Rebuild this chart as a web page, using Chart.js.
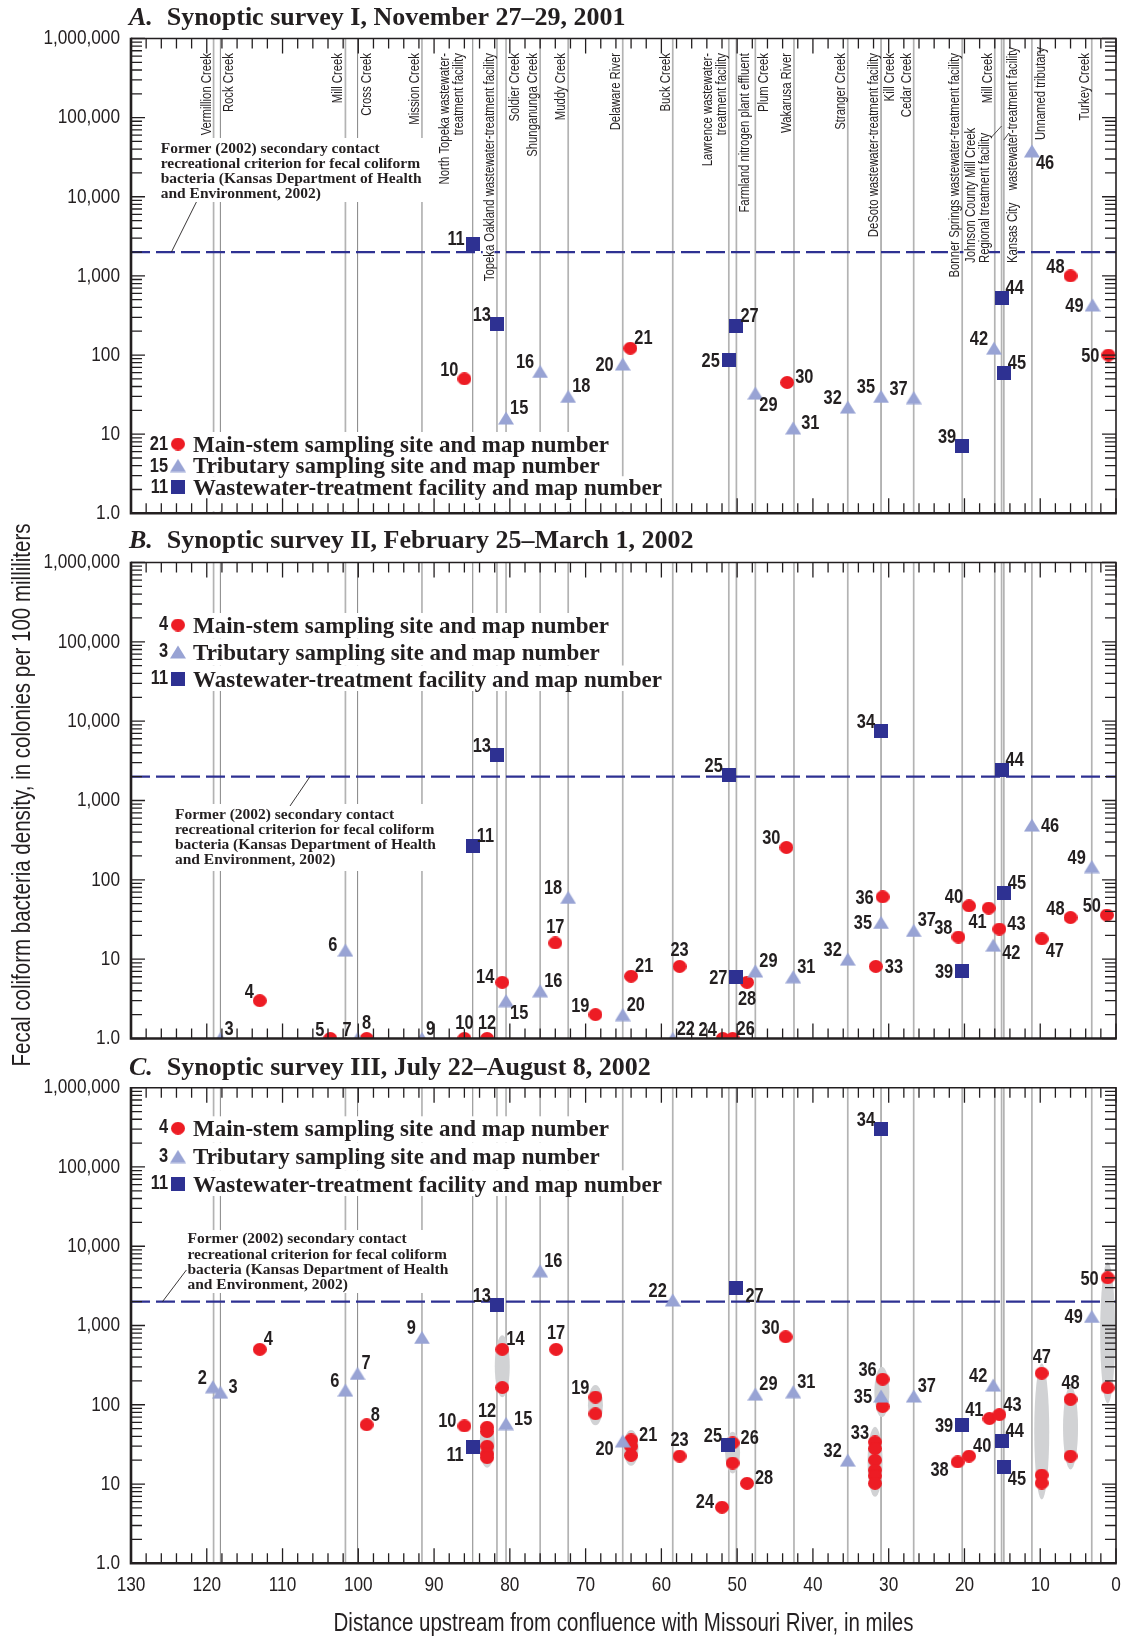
<!DOCTYPE html>
<html>
<head>
<meta charset="utf-8">
<script src="https://cdn.jsdelivr.net/npm/chart.js@4.4.1/dist/chart.umd.min.js"></script>
<style>
  html, body { margin: 0; padding: 0; background: #fff; }
  #page { position: relative; width: 1124px; height: 1638px; overflow: hidden; background: #fff; }
  #page canvas { position: absolute; left: 0; }
  #ytitle {
    position: absolute; left: -329px; top: 780px; width: 700px; height: 30px; line-height: 30px;
    text-align: center; transform: rotate(-90deg) scaleX(0.82);
    font-family: 'Liberation Sans', Arial, sans-serif;
    font-size: 25px; color: #231f20; white-space: nowrap;
  }
</style>
</head>
<body>
<div id="page">
  <canvas id="surveyI" width="1124" height="528" style="top:0px"></canvas>
  <canvas id="surveyII" width="1124" height="530" style="top:525px"></canvas>
  <canvas id="surveyIII" width="1124" height="588" style="top:1050px"></canvas>
  <div id="ytitle">Fecal coliform bacteria density, in colonies per 100 milliliters</div>
</div>
<script>
// ---------------------------------------------------------------------------
// Axis ticks and titles
// ---------------------------------------------------------------------------
const yTickValues = [1, 10, 100, 1000, 10000, 100000, 1000000];
const yTickLabels = ['1.0', '10', '100', '1,000', '10,000', '100,000', '1,000,000'];
const xTickValues = [0, 10, 20, 30, 40, 50, 60, 70, 80, 90, 100, 110, 120, 130];
const xTickLabels = ['0', '10', '20', '30', '40', '50', '60', '70', '80', '90', '100', '110', '120', '130'];
const xAxisTitle = 'Distance upstream from confluence with Missouri River, in miles';

// Former (2002) secondary contact recreational criterion, colonies per 100 mL
const criterionValue = 2000;
const criterionNote = [
  'Former (2002) secondary contact',
  'recreational criterion for fecal coliform',
  'bacteria (Kansas Department of Health',
  'and Environment, 2002)'
];
const legendTexts = [
  'Main-stem sampling site and map number',
  'Tributary sampling site and map number',
  'Wastewater-treatment facility and map number'
];

// ---------------------------------------------------------------------------
// Inflows: tributaries and wastewater outfalls, river miles upstream of the
// Missouri River confluence ("\n" separates label columns)
// ---------------------------------------------------------------------------
const inflowNames = [
  'Vermillion Creek', 'Rock Creek', 'Mill Creek', 'Cross Creek', 'Mission Creek',
  'North Topeka wastewater-\ntreatment facility', 'Topeka Oakland wastewater-treatment facility',
  'Soldier Creek', 'Shunganunga Creek', 'Muddy Creek', 'Delaware River', 'Buck Creek',
  'Lawrence wastewater-\ntreatment facility', 'Farmland nitrogen plant effluent', 'Plum Creek',
  'Wakarusa River', 'Stranger Creek', 'DeSoto wastewater-treatment facility', 'Kill Creek',
  'Cedar Creek', 'Bonner Springs wastewater-treatment facility',
  'Johnson County Mill Creek\nRegional treatment facility', 'Mill Creek',
  'Kansas City\nwastewater-treatment facility', 'Unnamed tributary', 'Turkey Creek'
];
const inflowMiles = [
  119.1, 118.2, 101.7, 100.1, 91.6,
  84.9, 81.7,
  80.5, 76.0, 72.3, 65.1, 58.5,
  51.1, 50.1, 47.6,
  42.5, 35.4, 31.0, 31.0,
  26.7, 20.3,
  15.1, 16.0,
  14.8, 11.1, 3.2
];

// ---------------------------------------------------------------------------
// Synoptic survey I, November 27-29, 2001
// ---------------------------------------------------------------------------
const s1MainSite  = [10, 21, 30, 48, 50];
const s1MainMile  = [86.0, 64.1, 43.4, 6.0, 1.0];
const s1MainValue = [50, 122, 45, 1000, 100];

const s1TribSite  = [15, 16, 18, 20, 29, 31, 32, 35, 37, 42, 46, 49];
const s1TribMile  = [80.5, 76.0, 72.3, 65.1, 47.6, 42.6, 35.4, 31.0, 26.7, 16.1, 11.1, 3.1];
const s1TribValue = [16, 62, 30, 77, 33, 12, 22, 30, 29, 122, 38000, 430];

const s1PlantSite  = [11, 13, 25, 27, 39, 44, 45];
const s1PlantMile  = [84.9, 81.7, 51.1, 50.1, 20.3, 15.1, 14.8];
const s1PlantValue = [2500, 245, 86, 235, 7, 530, 60];

// ---------------------------------------------------------------------------
// Synoptic survey II, February 25-March 1, 2002
// ---------------------------------------------------------------------------
const s2MainSite  = [4, 5, 8, 10, 12, 14, 17, 19, 21, 23, 24, 26, 28, 30, 33, 36, 38, 40, 41, 43, 47, 48, 50];
const s2MainMile  = [113.0, 103.7, 98.9, 86.0, 83.0, 81.0, 74.0, 68.7, 64.0, 57.6, 51.9, 50.6, 48.7, 43.5, 31.7, 30.8, 20.8, 19.4, 16.8, 15.4, 9.8, 6.0, 1.2];
const s2MainValue = [3, 1, 1, 1, 1, 5.1, 16, 2.0, 6.1, 8.1, 1, 1, 5.1, 256, 8.1, 61, 19, 47, 44, 24, 18, 33.5, 36];

const s2TribSite  = [3, 6, 7, 9, 15, 16, 18, 20, 22, 29, 31, 32, 35, 37, 42, 46, 49];
const s2TribMile  = [118.2, 101.7, 100.1, 91.6, 80.5, 76.0, 72.3, 65.1, 58.5, 47.6, 42.6, 35.4, 31.0, 26.7, 16.2, 11.1, 3.2];
const s2TribValue = [1, 13, 1, 1, 3.0, 4.0, 60, 2.0, 1, 7.1, 6, 10, 29, 23, 15, 490, 147];

const s2PlantSite  = [11, 13, 25, 27, 34, 39, 44, 45];
const s2PlantMile  = [84.9, 81.7, 51.1, 50.1, 31.0, 20.3, 15.1, 14.8];
const s2PlantValue = [268, 3700, 2100, 6, 7500, 7, 2400, 69];

// ---------------------------------------------------------------------------
// Synoptic survey III, July 22-August 8, 2002 (repeat samples share a site)
// ---------------------------------------------------------------------------
const s3MainSite  = [4, 8, 10, 12, 12, 12, 12, 12, 14, 14, 17, 19, 19, 21, 21, 21, 23, 24, 26, 26, 28, 30,
                     33, 33, 33, 33, 33, 33, 36, 36, 38, 40, 41, 43, 47, 47, 47, 48, 48, 50, 50];
const s3MainMile  = [113.0, 98.9, 86.0, 83.0, 83.0, 83.0, 83.0, 83.0, 81.0, 81.0, 73.9, 68.7, 68.7,
                     64.0, 64.0, 64.0, 57.6, 52.0, 50.6, 50.6, 48.7, 43.6,
                     31.8, 31.8, 31.8, 31.8, 31.8, 31.8, 30.8, 30.8, 20.9, 19.4, 16.7, 15.4,
                     9.8, 9.8, 9.8, 6.0, 6.0, 1.1, 1.1];
const s3MainValue = [500, 56, 54, 52, 46, 30, 24, 21.5, 500, 165, 500, 125, 77,
                     36, 30, 23, 22.5, 5.1, 33, 18.4, 10.2, 720,
                     34, 28, 20, 15, 12.7, 10.2, 210, 95, 19, 22.5, 67, 75,
                     250, 13, 10.3, 117, 22.5, 4000, 164];

const s3TribSite  = [2, 3, 6, 7, 9, 15, 16, 20, 22, 29, 31, 32, 35, 37, 42, 49];
const s3TribMile  = [119.2, 118.2, 101.7, 100.1, 91.6, 80.5, 76.0, 65.1, 58.5, 47.6, 42.6, 35.4, 31.0, 26.7, 16.2, 3.2];
const s3TribValue = [169, 144, 153, 248, 706, 58, 4900, 35, 2100, 136, 146, 20, 129, 129, 177, 1300];

const s3PlantSite  = [11, 13, 25, 27, 34, 39, 44, 45];
const s3PlantMile  = [84.9, 81.7, 51.2, 50.1, 31.0, 20.3, 15.1, 14.8];
const s3PlantValue = [29.6, 1800, 31, 3000, 300000, 56, 35, 16.2];

// Spread of repeat samples at a site (shaded ranges)
const s3RangeMile = [83.0, 81.0, 68.7, 64.0, 50.6, 31.8, 30.9, 9.8, 6.0, 1.1];
const s3RangeLow  = [16, 124, 55, 17, 13.6, 6.9, 70, 6.4, 15.3, 104];
const s3RangeHigh = [62, 755, 177, 48, 45.7, 52.8, 301, 331, 172, 6300];

// ---------------------------------------------------------------------------
// Label placement for the map numbers (ul = upper left, ru = right, raised, ...)
// ---------------------------------------------------------------------------
const s1MainTag  = ['ul', 'ur', 'ru', 'ul', 'l'];
const s1TribTag  = ['ur', 'ul', 'ur', 'l', 'dr', 'ru', 'ul', 'ul', 'ul', 'ul', 'dr', 'l'];
const s1PlantTag = ['lu', 'ul', 'l', 'ur', 'ul', 'ur', 'ur'];

const s2MainTag  = ['ul', 'ul', 'u', 'u', 'u', 'lu', 'u', 'ul', 'ur', 'u', 'ul', 'ur', 'd', 'ul', 'r', 'l',
                    'ul', 'ul', 'dl', 'ru', 'dr', 'ul', 'ul'];
const s2TribTag  = ['ur', 'lu', 'ul', 'ur', 'dr', 'ur', 'ul', 'ur', 'ur', 'ur', 'ur', 'ul', 'l', 'ur', 'rd', 'r', 'ul'];
const s2PlantTag = ['ur', 'ul', 'ul', 'l', 'ul', 'l', 'ur', 'ur'];

const s3MainTag  = ['ur', 'ur', 'lu', 'u', null, null, null, null, 'ur', null, 'u', 'ul', null,
                    'ru', null, null, 'u', 'lu', 'ru', null, 'ru', 'ul',
                    'ul', null, null, null, null, null, 'ul', null, 'ld', 'ur', 'ul', 'ur',
                    'u', null, null, 'u', null, 'l', null];
const s3TribTag  = ['ul', 'ru', 'ul', 'ur', 'ul', 'ru', 'ur', 'ld', 'ul', 'ur', 'ur', 'ul', 'l', 'ur', 'ul', 'l'];
const s3PlantTag = ['ld', 'ul', 'ul', 'rd', 'ul', 'l', 'ur', 'dr'];

const LABEL_OFFSETS = {
  ul: [-6, -3, 'right'], ur: [4, -4, 'left'],
  l:  [-9, 7, 'right'],  r:  [9, 7, 'left'],
  lu: [-8, 1, 'right'],  ru: [8, 1, 'left'],
  ld: [-9, 14, 'right'], rd: [9, 14, 'left'],
  dl: [-2, 20, 'right'], dr: [4, 18, 'left'],
  u:  [0, -10, 'center'], d: [0, 23, 'center']
};

// Inflow label layout along the top of the first panel
const inflowLabelLayout = [
  { side: 'L' }, { side: 'R' }, { side: 'L' }, { side: 'R' }, { side: 'L' },
  { side: 'L', dx: -7 }, { side: 'L' },
  { side: 'R' }, { side: 'L' }, { side: 'L' }, { side: 'L' }, { side: 'L' },
  { side: 'L' }, { side: 'R' }, { side: 'R' },
  { side: 'L' }, { side: 'L' }, { side: 'L' }, { side: 'R' },
  { side: 'L' }, { side: 'L' },
  { side: 'L', dx: -10, bottom: 263, leader: [-10, 137, 0, 126] }, { side: 'L' },
  { side: 'R', split: [47, 263], leader: [0, 140, 5, 133] }, { side: 'R', top: 47 }, { side: 'L' }
];
const inflowDark = [false, true, false, true, false, true, false, false, false, false, false, false, false,
                    false, false, false, false, false, false, false, false, false, false, false, false, false];

// ---------------------------------------------------------------------------
// Styles
// ---------------------------------------------------------------------------
const FONT_SANS = "'Liberation Sans', Arial, sans-serif";
const FONT_SERIF = "'Liberation Serif', 'Times New Roman', serif";
const NARROW = 0.82;            // horizontal squeeze for the condensed sans lettering
const INK = '#231f20';
const RED = '#ed1c24';
const LILAC = '#98a3d4';
const NAVY = '#2e3192';
const GRID_GREY = '#b3b3b3';
const RANGE_GREY = '#d1d2d4';
const NUMBER_SIZE = 20;
const INFLOW_SIZE = 13.8;

function markerCanvas(kind) {
  const c = document.createElement('canvas');
  const g = c.getContext('2d');
  if (kind === 'circle') {
    c.width = 14; c.height = 13;
    g.fillStyle = RED;
    g.beginPath(); g.ellipse(7, 6.5, 7, 6.5, 0, 0, Math.PI * 2); g.fill();
  } else if (kind === 'triangle') {
    c.width = 16; c.height = 14;
    g.fillStyle = LILAC;
    g.beginPath(); g.moveTo(8, 0.5); g.lineTo(16, 13.5); g.lineTo(0, 13.5); g.closePath(); g.fill();
  } else {
    c.width = 14; c.height = 14;
    g.fillStyle = NAVY;
    g.fillRect(0, 0, 14, 14);
  }
  return c;
}
const MARK = { circle: markerCanvas('circle'), triangle: markerCanvas('triangle'), square: markerCanvas('square') };

// Condensed sans text: regular face squeezed horizontally
function narrowText(ctx, text, x, y, o) {
  ctx.save();
  ctx.font = (o.weight ? o.weight + ' ' : '') + o.size + 'px ' + FONT_SANS;
  ctx.fillStyle = o.color || INK;
  ctx.textAlign = o.align || 'left';
  ctx.textBaseline = o.baseline || 'alphabetic';
  ctx.translate(x, y);
  if (o.rotate) ctx.rotate(o.rotate);
  ctx.scale(NARROW, 1);
  ctx.fillText(text, 0, 0);
  ctx.restore();
}
function narrowWidth(ctx, text, size, weight) {
  ctx.save();
  ctx.font = (weight ? weight + ' ' : '') + size + 'px ' + FONT_SANS;
  const w = ctx.measureText(text).width * NARROW;
  ctx.restore();
  return w;
}

// ---------------------------------------------------------------------------
// Drawing helpers
// ---------------------------------------------------------------------------
function drawInflowLabels(ctx, x, dashY) {
  const size = INFLOW_SIZE;
  inflowNames.forEach((name, i) => {
    const lay = inflowLabelLayout[i];
    const lx = x.getPixelForValue(inflowMiles[i]);
    const cols = name.split('\n');
    const pieces = [];
    if (lay.split) {
      pieces.push({ text: cols[0], col: 0, anchor: 'bottom', at: lay.split[1] });
      pieces.push({ text: cols[1], col: 0, anchor: 'top', at: lay.split[0] });
    } else {
      cols.forEach((t, k) => pieces.push({
        text: t, col: cols.length - 1 - k,
        anchor: lay.bottom ? 'bottom' : 'top',
        at: lay.bottom || lay.top || 53
      }));
    }
    pieces.forEach(p => {
      const bx = lay.side === 'L'
        ? lx - 3 + (lay.dx || 0) - p.col * 14
        : lx + 13 + (lay.dx || 0) + p.col * 14;
      const w = narrowWidth(ctx, p.text, size);
      const y0 = p.anchor === 'top' ? p.at : p.at - w;
      const y1 = p.anchor === 'top' ? p.at + w : p.at;
      if (dashY > y0 && dashY < y1) {
        ctx.fillStyle = '#fff';
        ctx.fillRect(bx - 0.74 * size - 1, dashY - 2.5, 0.74 * size + 1.5, 5);
      }
      narrowText(ctx, p.text, bx, p.at, {
        size: size, rotate: -Math.PI / 2,
        align: p.anchor === 'top' ? 'right' : 'left'
      });
    });
    if (lay.leader) {
      ctx.strokeStyle = INK; ctx.lineWidth = 0.8;
      ctx.beginPath();
      ctx.moveTo(lx + lay.leader[0], lay.leader[1]);
      ctx.lineTo(lx + lay.leader[2], lay.leader[3]);
      ctx.stroke();
    }
  });
}

function drawNote(ctx, n, dashY) {
  ctx.fillStyle = '#fff';
  ctx.fillRect(n.box[0], n.box[1], n.box[2] - n.box[0], n.box[3] - n.box[1]);
  ctx.font = 'bold 15.5px ' + FONT_SERIF;
  ctx.fillStyle = INK; ctx.textAlign = 'left'; ctx.textBaseline = 'alphabetic';
  criterionNote.forEach((t, k) => ctx.fillText(t, n.x, n.baselines[k]));
  ctx.strokeStyle = INK; ctx.lineWidth = 0.9;
  ctx.beginPath(); ctx.moveTo(n.leader[0], n.leader[1]); ctx.lineTo(n.leader[2], dashY); ctx.stroke();
}

function drawLegend(ctx, L, area) {
  const marks = [MARK.circle, MARK.triangle, MARK.square];
  ctx.font = 'bold 23px ' + FONT_SERIF;
  legendTexts.forEach((t, k) => {
    const cy = L.rows[k];
    const w = ctx.measureText(t).width;
    const top = k === 0 ? cy - 12 : (L.rows[k - 1] + cy) / 2;
    const bottom = k === 2 ? (L.toAxis ? area.bottom - 2 : cy + 12) : (cy + L.rows[k + 1]) / 2;
    ctx.fillStyle = '#fff';
    ctx.fillRect(144, top, 193 + w + 4 - 144, bottom - top);
  });
  legendTexts.forEach((t, k) => {
    const cy = L.rows[k];
    const m = marks[k];
    ctx.drawImage(m, 178 - m.width / 2, cy - m.height / 2);
    ctx.fillStyle = INK;
    ctx.textAlign = 'left'; ctx.textBaseline = 'alphabetic';
    ctx.font = 'bold 23px ' + FONT_SERIF;
    ctx.fillText(t, 193, cy + 7.5);
    narrowText(ctx, L.nums[k], 168, cy + L.numDy, { size: NUMBER_SIZE, weight: 'bold', align: 'right' });
  });
}

function drawRanges(ctx, b, x, y) {
  ctx.fillStyle = RANGE_GREY;
  b.mile.forEach((m, i) => {
    const px = x.getPixelForValue(m);
    const top = y.getPixelForValue(b.high[i]);
    const bot = y.getPixelForValue(b.low[i]);
    ctx.beginPath();
    ctx.ellipse(px, (top + bot) / 2, 7.5, (bot - top) / 2, 0, 0, Math.PI * 2);
    ctx.fill();
  });
}

function drawSiteNumbers(chart) {
  const ctx = chart.ctx;
  chart.data.datasets.forEach((ds, d) => {
    const meta = chart.getDatasetMeta(d);
    meta.data.forEach((pt, i) => {
      const tag = ds.tags[i];
      if (!tag) return;
      const off = LABEL_OFFSETS[tag];
      narrowText(ctx, String(ds.sites[i]), pt.x + off[0], pt.y + off[1], { size: NUMBER_SIZE, weight: 'bold', align: off[2] });
    });
  });
}

function drawFrame(chart) {
  const { ctx, chartArea: a } = chart;
  const x = chart.scales.x, y = chart.scales.y;
  ctx.save();
  ctx.strokeStyle = INK;
  ctx.lineWidth = 1.3;
  ctx.beginPath();
  for (let m = 0; m <= 130; m += 2) {
    const px = x.getPixelForValue(m);
    const len = m % 10 === 0 ? 15 : 10;
    ctx.moveTo(px, a.top); ctx.lineTo(px, a.top + len);
    ctx.moveTo(px, a.bottom); ctx.lineTo(px, a.bottom - len);
  }
  for (let e = 0; e <= 6; e++) {
    for (let k = 1; k <= 9; k++) {
      const v = k * Math.pow(10, e);
      if (v > 1000000) break;
      const py = y.getPixelForValue(v);
      const len = k === 1 ? 14 : 11;
      ctx.moveTo(a.left, py); ctx.lineTo(a.left + len, py);
      ctx.moveTo(a.right, py); ctx.lineTo(a.right - len, py);
    }
  }
  ctx.stroke();
  ctx.lineWidth = 1.6;
  ctx.beginPath();
  ctx.moveTo(a.left, a.top); ctx.lineTo(a.right, a.top); ctx.lineTo(a.right, a.bottom);
  ctx.stroke();
  ctx.lineWidth = 2.6;
  ctx.beginPath();
  ctx.moveTo(a.left, a.top - 0.8); ctx.lineTo(a.left, a.bottom); ctx.lineTo(a.right + 0.8, a.bottom);
  ctx.stroke();
  ctx.restore();
}

function drawAxisText(chart, o) {
  const { ctx, chartArea: a } = chart;
  const x = chart.scales.x, y = chart.scales.y;
  yTickValues.forEach((v, i) => {
    narrowText(ctx, yTickLabels[i], a.left - 11, y.getPixelForValue(v), { size: 21, align: 'right', baseline: 'middle' });
  });
  if (o.xAxis) {
    xTickValues.forEach((v, i) => {
      narrowText(ctx, xTickLabels[i], x.getPixelForValue(v), a.bottom + 22, { size: 21, align: 'center', baseline: 'middle' });
    });
    narrowText(ctx, xAxisTitle, (a.left + a.right) / 2, a.bottom + 61, { size: 25, align: 'center', baseline: 'middle' });
  }
}

function drawTitle(ctx, t, base) {
  ctx.save();
  ctx.fillStyle = INK; ctx.textAlign = 'left'; ctx.textBaseline = 'alphabetic';
  ctx.font = 'italic bold 26px ' + FONT_SERIF;
  ctx.fillText(t[0], 129, base);
  const w = ctx.measureText(t[0]).width;
  ctx.font = 'bold 26px ' + FONT_SERIF;
  ctx.fillText(t[1], 129 + w + 14, base);
  ctx.restore();
}

const panelDecor = {
  id: 'panelDecor',
  beforeDatasetsDraw(chart, args, o) {
    const { ctx, chartArea: a } = chart;
    const x = chart.scales.x, y = chart.scales.y;
    ctx.save();
    ctx.beginPath(); ctx.rect(a.left, a.top, a.right - a.left, a.bottom - a.top); ctx.clip();

    inflowMiles.forEach((m, i) => {
      const px = x.getPixelForValue(m);
      ctx.strokeStyle = inflowDark[i] ? '#8f8f8f' : GRID_GREY;
      ctx.lineWidth = inflowDark[i] ? 1.1 : 1.7;
      ctx.beginPath(); ctx.moveTo(px, a.top); ctx.lineTo(px, a.bottom); ctx.stroke();
    });

    const dashY = y.getPixelForValue(criterionValue);
    ctx.strokeStyle = NAVY; ctx.lineWidth = 2.2; ctx.setLineDash([19, 6]);
    ctx.beginPath(); ctx.moveTo(a.left, dashY); ctx.lineTo(a.right, dashY); ctx.stroke();
    ctx.setLineDash([]);

    if (o.inflowLabels) drawInflowLabels(ctx, x, dashY);
    if (o.note) drawNote(ctx, o.note, dashY);
    if (o.legend) drawLegend(ctx, o.legend, a);
    if (o.ranges) drawRanges(ctx, o.ranges, x, y);
    ctx.restore();
  },
  afterDatasetsDraw(chart) {
    drawSiteNumbers(chart);
    drawFrame(chart);
  },
  afterDraw(chart, args, o) {
    drawAxisText(chart, o);
    drawTitle(chart.ctx, o.title, o.titleBaseline);
  }
};

function points(miles, values) {
  return miles.map((m, i) => ({ x: m, y: values[i] }));
}

function buildPanel(id, p) {
  return new Chart(document.getElementById(id), {
    type: 'scatter',
    plugins: [panelDecor],
    data: {
      datasets: [
        { label: 'Wastewater-treatment facility', data: points(p.plant.mile, p.plant.value),
          sites: p.plant.site, tags: p.plant.tag, pointStyle: MARK.square, pointRadius: 7, clip: 0 },
        { label: 'Tributary sampling site', data: points(p.trib.mile, p.trib.value),
          sites: p.trib.site, tags: p.trib.tag, pointStyle: MARK.triangle, pointRadius: 7, clip: 0 },
        { label: 'Main-stem sampling site', data: points(p.main.mile, p.main.value),
          sites: p.main.site, tags: p.main.tag, pointStyle: MARK.circle, pointRadius: 7, clip: 0 }
      ]
    },
    options: {
      responsive: false,
      animation: false,
      events: [],
      layout: { padding: { top: p.padTop, bottom: p.padBottom, left: 131, right: 8 } },
      plugins: {
        legend: { display: false },
        tooltip: { enabled: false },
        panelDecor: p.decor
      },
      scales: {
        x: { type: 'linear', min: 0, max: 130, reverse: true, display: false },
        y: { type: 'logarithmic', min: 1, max: 1000000, display: false }
      }
    }
  });
}

buildPanel('surveyI', {
  padTop: 38.5, padBottom: 14.7,
  main:  { site: s1MainSite,  mile: s1MainMile,  value: s1MainValue,  tag: s1MainTag },
  trib:  { site: s1TribSite,  mile: s1TribMile,  value: s1TribValue,  tag: s1TribTag },
  plant: { site: s1PlantSite, mile: s1PlantMile, value: s1PlantValue, tag: s1PlantTag },
  decor: {
    title: ['A.', 'Synoptic survey I, November 27\u201329, 2001'], titleBaseline: 25,
    inflowLabels: true,
    note: { x: 160.7, baselines: [152.5, 167.8, 183, 198], box: [156, 138, 430, 202], leader: [196.4, 202, 171.4] },
    legend: { rows: [444, 465.5, 487], nums: ['21', '15', '11'], numDy: 6, toAxis: true }
  }
});

buildPanel('surveyII', {
  padTop: 37.5, padBottom: 16.5,
  main:  { site: s2MainSite,  mile: s2MainMile,  value: s2MainValue,  tag: s2MainTag },
  trib:  { site: s2TribSite,  mile: s2TribMile,  value: s2TribValue,  tag: s2TribTag },
  plant: { site: s2PlantSite, mile: s2PlantMile, value: s2PlantValue, tag: s2PlantTag },
  decor: {
    title: ['B.', 'Synoptic survey II, February 25\u2013March 1, 2002'], titleBaseline: 23,
    note: { x: 175, baselines: [294, 309.3, 324, 338.7], box: [171, 279, 442, 346], leader: [290, 281, 310] },
    legend: { rows: [100, 127, 154], nums: ['4', '3', '11'], numDy: 5 }
  }
});

buildPanel('surveyIII', {
  padTop: 37.7, padBottom: 74.7,
  main:  { site: s3MainSite,  mile: s3MainMile,  value: s3MainValue,  tag: s3MainTag },
  trib:  { site: s3TribSite,  mile: s3TribMile,  value: s3TribValue,  tag: s3TribTag },
  plant: { site: s3PlantSite, mile: s3PlantMile, value: s3PlantValue, tag: s3PlantTag },
  decor: {
    title: ['C.', 'Synoptic survey III, July 22\u2013August 8, 2002'], titleBaseline: 25,
    xAxis: true,
    note: { x: 187.5, baselines: [193.3, 209, 224, 239], box: [183, 180, 455, 243], leader: [186.4, 220, 162.5] },
    legend: { rows: [78.3, 106.5, 134], nums: ['4', '3', '11'], numDy: 5 },
    ranges: { mile: s3RangeMile, low: s3RangeLow, high: s3RangeHigh }
  }
});
</script>
</body>
</html>
